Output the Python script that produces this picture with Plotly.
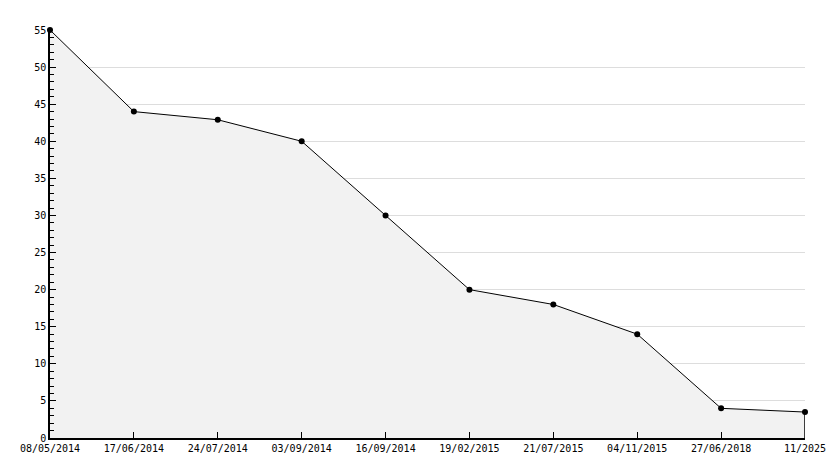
import plotly.graph_objects as go

dates = ["08/05/2014", "17/06/2014", "24/07/2014", "03/09/2014", "16/09/2014",
         "19/02/2015", "21/07/2015", "04/11/2015", "27/06/2018", "11/2025"]
values = [55, 44, 42.9, 40, 30, 20, 18, 14, 4, 3.5]
y_ticks = list(range(0, 56, 5))

FONT = "DejaVu Sans Mono"

fig = go.Figure()
fig.add_trace(go.Scatter(
    x=dates, y=values, mode="lines+markers",
    line=dict(color="black", width=1),
    marker=dict(color="black", size=6, symbol="circle"),
    fill="tozeroy", fillcolor="#f2f2f2",
    hoverinfo="x+y", cliponaxis=False,
))
# trait vertical qui ferme l'aire au dernier point
fig.add_trace(go.Scatter(
    x=[dates[-1], dates[-1]], y=[0, values[-1]], mode="lines",
    line=dict(color="black", width=1.5), hoverinfo="skip", cliponaxis=False,
))

# la page ajoute 8px de marge au body : on compense dans les marges
fig.update_layout(
    width=834, height=468,
    paper_bgcolor="white", plot_bgcolor="white",
    showlegend=False,
    margin=dict(l=42, r=37, t=22, b=38),
    font=dict(family=FONT, size=10, color="black"),
)
fig.update_xaxes(
    type="category", range=[0, len(dates) - 1],
    showgrid=False, showline=True, linecolor="black", linewidth=1.5,
    ticks="inside", ticklen=6, tickcolor="black",
    zeroline=False, tickfont=dict(family=FONT, size=10),
)
fig.update_yaxes(
    range=[0, 55], tickvals=y_ticks,
    showgrid=True, gridcolor="#dddddd", gridwidth=1,
    showline=True, linecolor="black", linewidth=1.5,
    ticks="inside", ticklen=6, tickcolor="black",
    minor=dict(dtick=1, ticks="inside", ticklen=4, tickcolor="black", showgrid=False),
    zeroline=False, tickfont=dict(family=FONT, size=10),
)

fig.write_html("out.html")
